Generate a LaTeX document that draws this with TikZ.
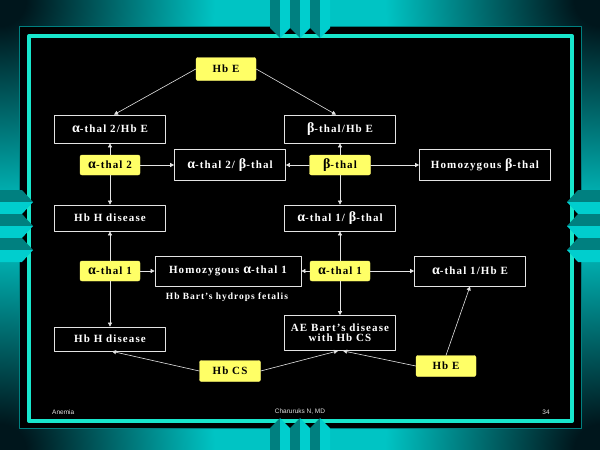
\documentclass[tikz,border=0pt]{standalone}
\usepackage{fontspec}
\setmainfont{Liberation Serif}
\newfontfamily\boxfont[LetterSpace=10]{Liberation Serif}
\newfontfamily\footfont{Liberation Sans}
\usetikzlibrary{arrows.meta}

\definecolor{slidecyan}{RGB}{0,196,196}
\definecolor{slidelight}{RGB}{0,206,206}
\definecolor{slidedark}{RGB}{0,22,28}
\definecolor{slideshade}{RGB}{0,128,128}
\definecolor{slideband}{RGB}{24,230,204}
\definecolor{boxyellow}{RGB}{255,255,102}
\definecolor{linegray}{RGB}{228,228,228}

\pgfdeclareradialshading{cornerglow}{\pgfpoint{0bp}{0bp}}{color(0bp)=(slidedark); color(3bp)=(slidedark); color(25bp)=(slidecyan); color(50bp)=(slidecyan)}

\newcommand{\galpha}{{\fontsize{14}{14}\selectfont α}}
\newcommand{\gbeta}{{\fontsize{14}{14}\selectfont β}}

\tikzset{
  whitebox/.style={draw=linegray, line width=0.7pt, text=white, inner sep=0pt,
    font=\boxfont\bfseries\fontsize{11}{12}\selectfont},
  yellowbox/.style={draw=yellow!55!white, fill=boxyellow, rounded corners=2pt,
    text=black, inner sep=0pt, minimum width=60, minimum height=20,
    font=\boxfont\bfseries\fontsize{11}{12}\selectfont},
  link/.style={draw=linegray, line width=0.6pt, -{Triangle[length=4pt,width=4pt]}},
  footnote/.style={text=linegray, inner sep=0pt, font=\footfont\fontsize{6.5}{7}\selectfont}
}

\begin{document}
\begin{tikzpicture}[line cap=round,line join=round,x=1pt,y=-1pt]
  \useasboundingbox (0,0) rectangle (600,450);
  \clip (0,0) rectangle (600,450);

  % slide frame
  \fill[slidecyan] (0,0) rectangle (600,450);
  \foreach \cx/\cy in {0/0,600/0,0/450,600/450}{
    \shade[shading=cornerglow] (\cx,\cy) circle (215);
  }
  \filldraw[fill=black, draw=slideshade, line width=0.8] (19,26) rectangle (581,428);
  \draw[slideband, line width=4] (29,36) rectangle (572,421);

  % chevrons on the frame
  \foreach \x in {270,290,310}{
    \fill[slideshade] (\x,0) -- (\x,28) -- (\x+10,38) -- (\x+10,0) -- cycle;
    \fill[slidelight] (\x+10,0) -- (\x+10,38) -- (\x+20,28) -- (\x+20,0) -- cycle;
    \fill[slideshade] (\x,450) -- (\x,428) -- (\x+10,418) -- (\x+10,450) -- cycle;
    \fill[slidelight] (\x+10,450) -- (\x+10,418) -- (\x+20,428) -- (\x+20,450) -- cycle;
  }
  \foreach \y in {190,214,238}{
    \fill[slideshade] (0,\y) -- (22,\y) -- (33,\y+12) -- (0,\y+12) -- cycle;
    \fill[slidelight] (0,\y+12) -- (33,\y+12) -- (22,\y+24) -- (0,\y+24) -- cycle;
    \fill[slideshade] (600,\y) -- (578,\y) -- (567,\y+12) -- (600,\y+12) -- cycle;
    \fill[slidelight] (600,\y+12) -- (567,\y+12) -- (578,\y+24) -- (600,\y+24) -- cycle;
  }

  % nodes
  \node[yellowbox, minimum height=23] (hbe) at (226,69) {Hb E};
  \node[whitebox, minimum width=111, minimum height=28] (a2e) at (110,129) {\galpha-thal 2/Hb E};
  \node[whitebox, minimum width=111, minimum height=28] (be) at (340,129) {\gbeta-thal/Hb E};

  \node[yellowbox] (a2) at (110,165) {\galpha-thal 2};
  \node[whitebox, minimum width=111, minimum height=31] (a2b) at (230,165) {\galpha-thal 2/ \gbeta-thal};
  \node[yellowbox, minimum width=61] (bt) at (340,165) {\gbeta-thal};
  \node[whitebox, minimum width=131, minimum height=31] (homb) at (485,165) {Homozygous \gbeta-thal};

  \node[whitebox, minimum width=111, minimum height=26] (hbh) at (110,218) {Hb H disease};
  \node[whitebox, minimum width=111, minimum height=26] (a1b) at (340,218) {\galpha-thal 1/ \gbeta-thal};

  \node[yellowbox] (a1l) at (110,271) {\galpha-thal 1};
  \node[whitebox, minimum width=146, minimum height=30] (homa) at (228,271) {Homozygous \galpha-thal 1};
  \node[yellowbox] (a1r) at (340,271) {\galpha-thal 1};
  \node[whitebox, minimum width=111, minimum height=30] (a1e) at (470,271) {\galpha-thal 1/Hb E};

  \node[text=white, inner sep=0pt, font=\boxfont\bfseries\fontsize{9.5}{10}\selectfont] (hydrops) at (227,297) {Hb Bart’s hydrops fetalis};

  \node[whitebox, minimum width=111, minimum height=24] (hbhb) at (110,339) {Hb H disease};
  \node[whitebox, minimum width=111, minimum height=35, align=center] (aeb) at (340,333) {AE Bart’s disease\\[-2pt]with Hb CS};

  \node[yellowbox, minimum width=61, minimum height=21] (hbcs) at (230,371) {Hb CS};
  \node[yellowbox, minimum height=21] (hbe2) at (446,366) {Hb E};

  \node[footnote, anchor=west] (topic) at (52,412) {Anemia};
  \node[footnote] (author) at (300,412) {Charuruks N, MD};
  \node[footnote] (page) at (546,412) {34};

  % connectors
  \draw[link] (hbe.west) -- ([xshift=4]a2e.north);
  \draw[link] (hbe.east) -- ([xshift=-4]be.north);
  \draw[link] (a2) -- (a2e);
  \draw[link] (bt) -- (be);
  \draw[link] (a2) -- (a2b);
  \draw[link] (bt) -- (a2b);
  \draw[link] (bt) -- (homb);
  \draw[link] (a2) -- (hbh);
  \draw[link] (bt) -- (a1b);
  \draw[link] (a1l) -- (hbh);
  \draw[link] (a1r) -- (a1b);
  \draw[link] (a1l) -- (homa);
  \draw[link] (a1r) -- (homa);
  \draw[link] (a1r) -- (a1e);
  \draw[link] (a1l) -- (hbhb);
  \draw[link] (a1r) -- (aeb);
  \draw[link] (hbcs.west) -- ([xshift=2]hbhb.south);
  \draw[link] (hbcs.east) -- ([xshift=-2]aeb.south);
  \draw[link] (hbe2.west) -- ([xshift=3]aeb.south);
  \draw[link] (hbe2.north) -- (a1e.south);
\end{tikzpicture}
\end{document}
